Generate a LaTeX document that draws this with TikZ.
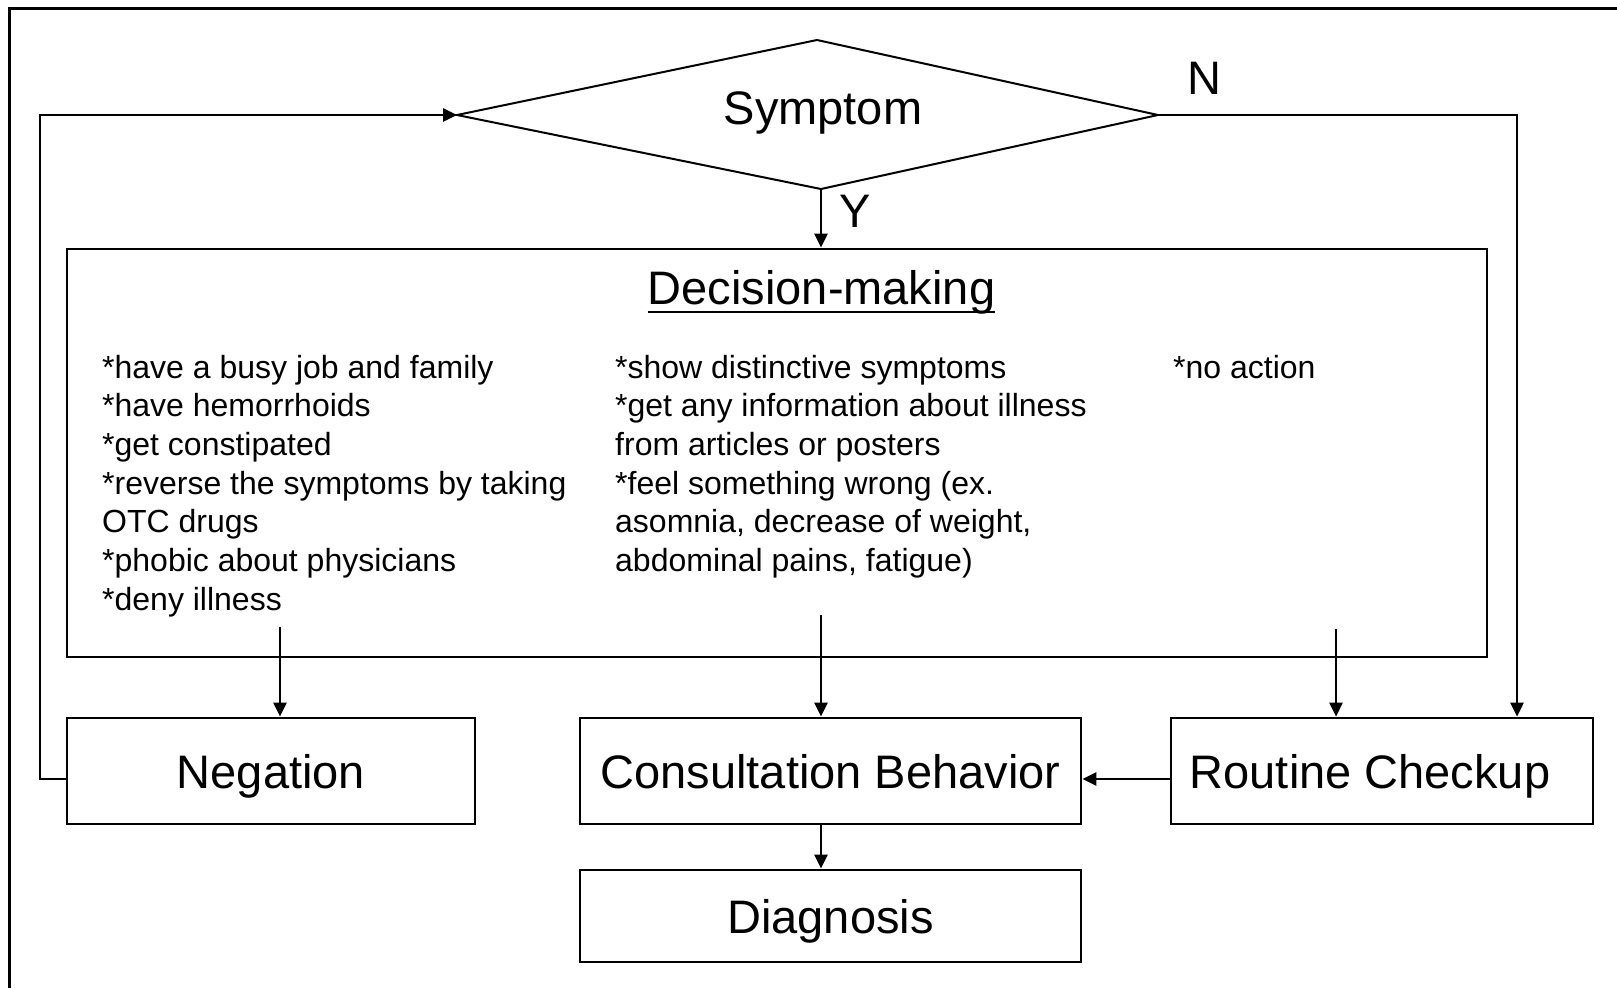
\documentclass[tikz,border=0pt]{standalone}
\usepackage{fontspec}
\setmainfont{Liberation Sans}
\usetikzlibrary{arrows.meta}
\newcommand{\bigfnt}{\fontsize{47}{56}\selectfont}
\newcommand{\bodyfnt}{\fontsize{32}{38.67}\selectfont}
\begin{document}
\begin{tikzpicture}[x=1pt,y=-1pt,
  box/.style={draw,line width=2.7pt,inner sep=0pt,font=\bigfnt,text height=34pt,text depth=0pt},
  lbl/.style={inner sep=0pt,font=\bigfnt,text height=34pt,text depth=0pt},
  bodyline/.style={inner sep=0pt,anchor=base west,font=\bodyfnt},
  conn/.style={line width=2.7pt,-{Triangle[width=13pt,length=14pt]}},
  plain/.style={line width=2.7pt}]
\useasboundingbox (0,0) rectangle (1617,988);
% outer frame
\draw[line width=3pt] (9,988) -- (9,8) -- (1617,8);
% diamond
\coordinate (dL) at (457,115);
\coordinate (dT) at (817,40);
\coordinate (dR) at (1158,115);
\coordinate (dB) at (821,189);
\draw[line width=2pt,line join=miter] (dL) -- (dT) -- (dR) -- (dB) -- cycle;
\node[lbl] (sym) at (823,107) {Symptom};
\node[lbl] (ylab) at (855,210) {Y};
\node[lbl] (nlab) at (1204,77) {N};
% decision box
\node[box,minimum width=1420pt,minimum height=408pt] (dm) at (777,453) {};
\node[lbl] (title) at (821.5,287) {Decision-making};
\draw[line width=2.2pt] ([yshift=-8pt]title.base west) -- ([yshift=-8pt]title.base east);
% body text
\foreach \t [count=\i] in {*have a busy job and family,*have hemorrhoids,*get constipated,*reverse the symptoms by taking,OTC drugs,*phobic about physicians,*deny illness}
  \node[bodyline] (a\i) at (102,{378+38.67*(\i-1)}) {\t};
\foreach \t [count=\i] in {*show distinctive symptoms,*get any information about illness,from articles or posters,*feel something wrong (ex.,{asomnia, decrease of weight,},{abdominal pains, fatigue)}}
  \node[bodyline] (b\i) at (615,{378+38.67*(\i-1)}) {\t};
\node[bodyline] (c1) at (1173,378) {*no action};
% bottom boxes
\node[box,minimum width=408pt,minimum height=106pt] (neg) at (271,771) {Negation};
\node[box,minimum width=501pt,minimum height=106pt] (cb) at (830.5,771) {Consultation Behavior};
\node[box,minimum width=422pt,minimum height=106pt] (rc) at (1382,771) {Routine Checkup\rule{24pt}{0pt}};
\node[box,minimum width=501pt,minimum height=92pt] (dg) at (830.5,916) {Diagnosis};
% connectors
\draw[conn] (dB) -- (dB |- dm.north);
\coordinate (s1) at (280,627);
\coordinate (s2) at (821,615);
\coordinate (s3) at (1336,629);
\draw[conn] (s1) -- (s1 |- neg.north);
\draw[conn] (s2) -- (s2 |- cb.north);
\draw[conn] (s3) -- (s3 |- rc.north);
\coordinate (nN) at (1517,115);
\draw[conn] (dR) -- (nN) -- (nN |- rc.north);
\coordinate (lp) at (40,115);
\draw[conn] ([yshift=-8pt]neg.west) -| (lp) -- (dL);
\draw[conn] ([yshift=-8pt]rc.west) -- ([yshift=-8pt]cb.east);
\draw[conn] (s2 |- cb.south) -- (s2 |- dg.north);
\end{tikzpicture}
\end{document}
